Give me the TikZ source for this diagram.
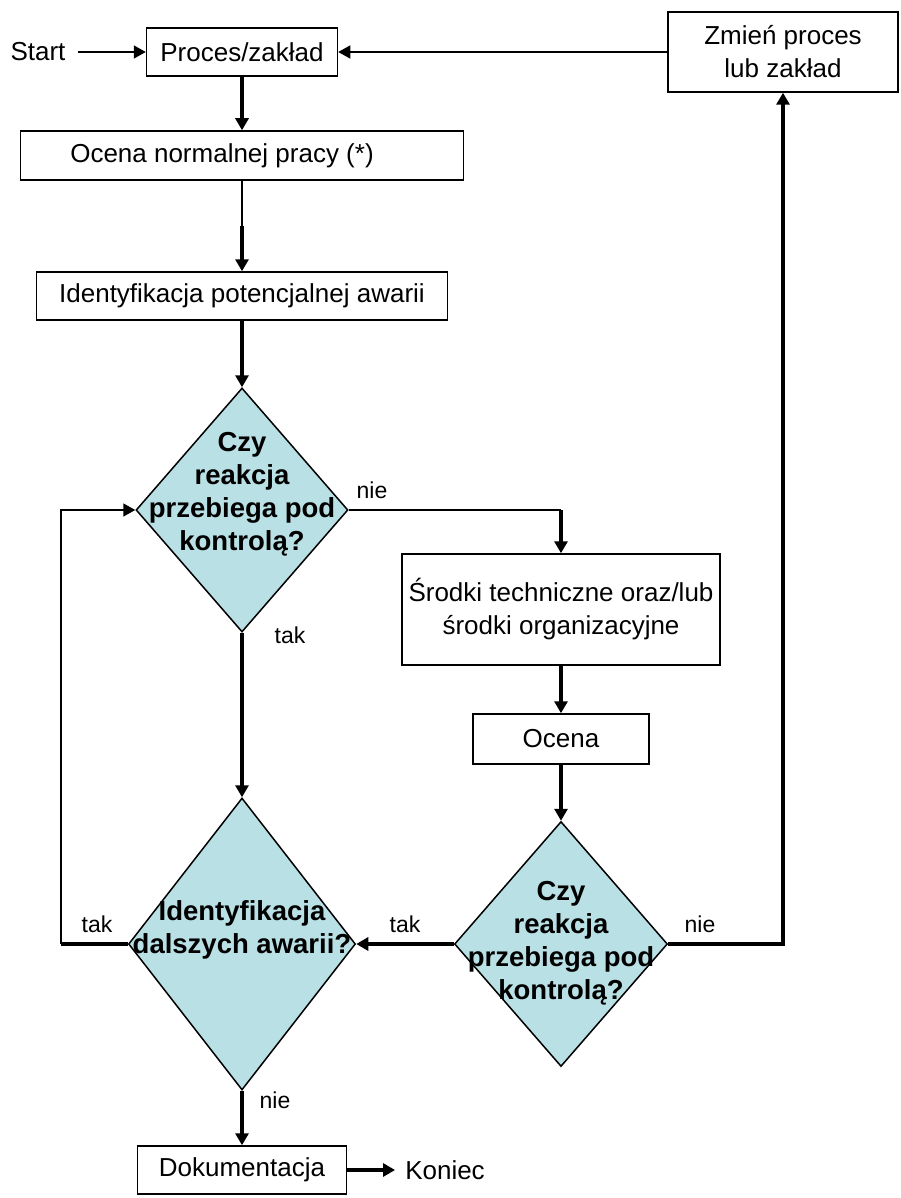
\documentclass[tikz,border=0pt]{standalone}
\usepackage{fontspec}
\setmainfont{Liberation Sans}
\usetikzlibrary{shapes.geometric,arrows.meta}
\definecolor{qblue}{RGB}{185,224,228}
\tikzset{
  box/.style={rectangle, draw, line width=1.5pt, align=center, inner sep=0pt},
  decision/.style={diamond, draw, line width=1.5pt, fill=qblue, inner sep=0pt},
  qtext/.style={align=center, font=\fontsize{27.5}{33}\selectfont\bfseries},
  lbl/.style={font=\fontsize{23}{28}\selectfont},
  thinline/.style={line width=1.5pt},
  thickline/.style={line width=3.2pt},
  arr/.style={-{Triangle[length=12pt,width=13pt]}},
}

\begin{document}
\begin{tikzpicture}[x=1pt,y=-1pt,font=\fontsize{26}{33}\selectfont]
\useasboundingbox (0,0) rectangle (900,1198);

%Process
\node[box,minimum width=191pt,minimum height=48pt] (proc) at (242,52) {Proces/zakład};
\node[box,minimum width=230pt,minimum height=80pt] (zmien) at (783,52) {Zmień proces\\lub zakład};
\node[box,minimum width=443pt,minimum height=49pt] (ocena1) at (242,155.5) {Ocena normalnej pracy (*)\hspace{40pt}};
\node[box,minimum width=411pt,minimum height=48pt] (ident) at (242,296) {Identyfikacja potencjalnej awarii};

% Decisions
\node[decision,minimum width=212pt,minimum height=244pt] (q1) at (242,510) {};
\node[qtext] (q1txt) at (242,494) {Czy\\reakcja\\przebiega pod\\kontrolą?};
\node[decision,minimum width=213pt,minimum height=245pt] (q2) at (561,944) {};
\node[qtext] (q2txt) at (561,943) {Czy\\reakcja\\przebiega pod\\kontrolą?};
\node[decision,minimum width=227pt,minimum height=292pt] (q3) at (242,944) {};
\node[qtext] (q3txt) at (242,930) {Identyfikacja\\dalszych awarii?};

%Measures
\node[box,minimum width=318pt,minimum height=111pt] (srodki) at (561,609.5) {Środki techniczne oraz/lub\\środki organizacyjne};
\node[box,minimum width=176pt,minimum height=50pt] (ocena2) at (561,739) {Ocena};
\node[box,minimum width=209pt,minimum height=48pt] (dok) at (242,1170) {Dokumentacja};

\node[inner xsep=12pt] (start) at (38,52) {Start};
\node[inner xsep=10pt] (koniec) at (445,1170) {Koniec};

% Answers
\node[lbl] (nie1) at (372,490) {nie};
\node[lbl] (tak1) at (290,635) {tak};
\node[lbl] (tak2) at (405,924) {tak};
\node[lbl] (nie2) at (700,924) {nie};
\node[lbl] (tak3) at (97,924) {tak};
\node[lbl] (nie3) at (275,1100) {nie};

\coordinate (o1mid) at (242,226);
\coordinate (nie1c) at (561,510);
\coordinate (loop) at (61,944);

% Arrows
\draw[thinline,arr] (start) -- (proc);
\draw[thinline,arr] (zmien) -- (proc);
\draw[thickline,arr] (proc) -- (ocena1);
\draw[thinline] (ocena1) -- (o1mid);
\draw[thickline,arr] (o1mid) -- (ident);
\draw[thickline,arr] (ident) -- (q1);
\draw[thinline] (q1.east) -- (nie1c);
\draw[thickline,arr] (nie1c) -- (srodki);
\draw[thickline,arr] (srodki) -- (ocena2);
\draw[thickline,arr] (ocena2) -- (q2);
\draw[thickline,arr] (q2.east) -| (zmien.south);
\draw[thickline,arr] (q2.west) -- (q3.east);
\draw[thickline,arr] (q1.south) -- (q3.north);
\draw[thickline] (q3.west) -- (loop);
\draw[thinline,arr] (loop) |- (q1.west);
\draw[thickline,arr] (q3.south) -- (dok);
\draw[thickline,arr] (dok) -- (koniec);
\end{tikzpicture}
\end{document}
